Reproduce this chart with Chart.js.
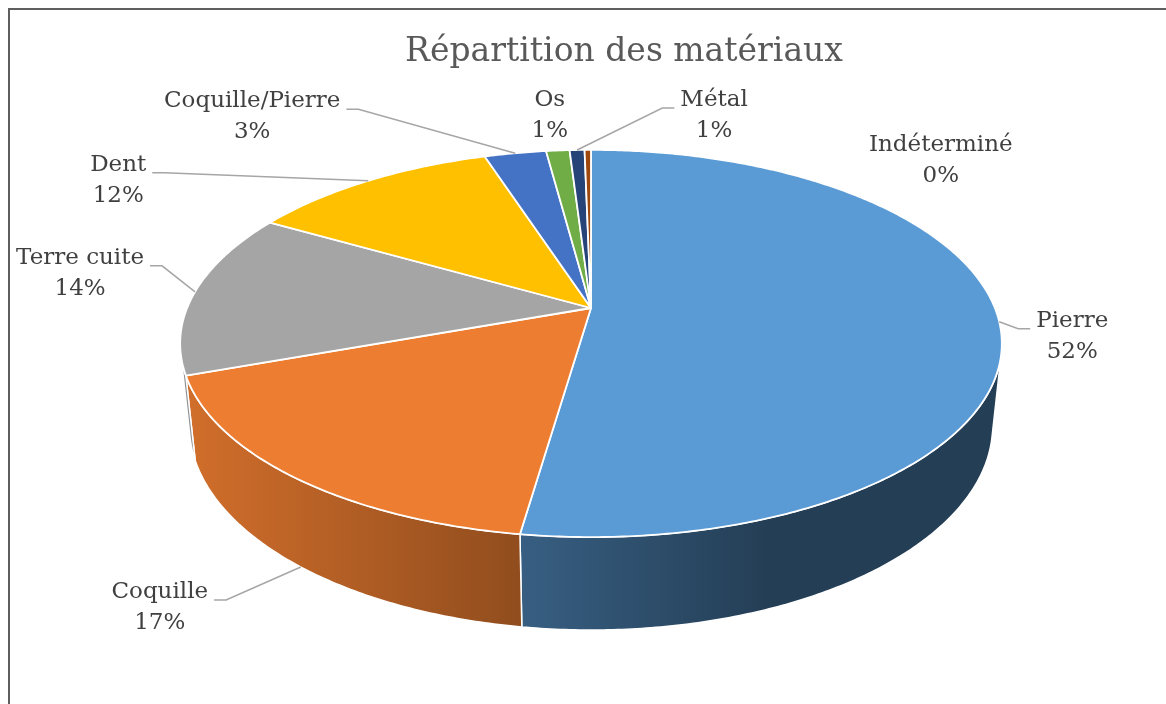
<!DOCTYPE html>
<html lang="fr">
<head>
<meta charset="UTF-8">
<title>Répartition des matériaux</title>
<script src="https://cdn.jsdelivr.net/npm/chart.js"></script>
<style>
    body { margin: 0; background: #fff; }
    .wrap { position: relative; width: 1166px; height: 704px; overflow: hidden; }
    .frame { position: absolute; left: 8px; top: 8px; width: 1400px; height: 900px; border: 2px solid #5e5e5e; }
    canvas { position: absolute; left: 0; top: 0; }
</style>
</head>
<body>
<div class="wrap">
    <div class="frame"></div>
    <canvas id="pie" width="1166" height="704"></canvas>
</div>
<script>
const categories = ['Pierre', 'Coquille', 'Terre cuite', 'Dent', 'Coquille/Pierre', 'Os', 'Métal', 'Indéterminé'];
const shares = [52.3, 17.2, 13.8, 11.7, 2.9, 1.1, 0.7, 0.3];
const colors = ['#5B9BD5', '#ED7D31', '#A5A5A5', '#FFC000', '#4472C4', '#70AD47', '#264478', '#9E480E'];

// label placement relative to the slice anchor, and leader lines
const labelShift = [[73, -1], [-141, 25], [-115, -34], [-250, -16], [-263, -52], [-8, -50], [137, -50], [353, -5]];
const showLeader = [true, true, true, true, true, false, true, false];

// 3D view of the pie (units = pie radius)
const TILT = 27.6 * Math.PI / 180;
const DIST = 4.835;
const FOCAL = 6.34;
const DEPTH = 0.232;

const total = shares.reduce((a, b) => a + b, 0);

function project(cx, cy, r, a, z, k = 1) {
    const X = k * Math.cos(a), Y = -k * Math.sin(a);
    const yc = Y * Math.sin(TILT) + z * Math.cos(TILT);
    const zc = DIST + Y * Math.cos(TILT) - z * Math.sin(TILT);
    const f = FOCAL * r;
    return [cx + f * X / zc, cy - f * yc / zc];
}

function shade(hex, k) {
    const n = parseInt(hex.slice(1), 16);
    return `rgb(${Math.round((n >> 16) * k)},${Math.round(((n >> 8) & 255) * k)},${Math.round((n & 255) * k)})`;
}

function rimPath(ctx, cx, cy, r, a1, a2, z, first) {
    const steps = Math.max(2, Math.ceil(Math.abs(a2 - a1) / 0.01));
    for (let s = 0; s <= steps; s++) {
        const p = project(cx, cy, r, a1 + (a2 - a1) * s / steps, z);
        if (s === 0 && first) ctx.moveTo(p[0], p[1]); else ctx.lineTo(p[0], p[1]);
    }
}

const pie3d = {
    id: 'pie3d',
    beforeDatasetsDraw(chart) {
        const ctx = chart.ctx;
        const arcs = chart.getDatasetMeta(0).data;
        const cx = arcs[0].x, cy = arcs[0].y, r = arcs[0].outerRadius;
        const vis = 1 / (DIST * Math.cos(TILT));
        const aLo = Math.asin(vis), aHi = Math.PI - aLo;
        const xl = project(cx, cy, r, Math.PI, 0)[0], xr = project(cx, cy, r, 0, 0)[0];

        ctx.save();
        ctx.lineJoin = 'round';
        // side walls
        arcs.forEach((arc, i) => {
            const s = Math.max(arc.startAngle, aLo), e = Math.min(arc.endAngle, aHi);
            if (e <= s) return;
            ctx.beginPath();
            rimPath(ctx, cx, cy, r, s, e, 0, true);
            rimPath(ctx, cx, cy, r, e, s, -DEPTH, false);
            ctx.closePath();
            const g = ctx.createLinearGradient(xl, 0, xr, 0);
            g.addColorStop(0, shade(colors[i], 0.88));
            g.addColorStop(0.40, shade(colors[i], 0.62));
            g.addColorStop(0.72, shade(colors[i], 0.40));
            g.addColorStop(1, shade(colors[i], 0.40));
            ctx.fillStyle = g;
            ctx.fill();
            ctx.strokeStyle = '#ffffff';
            ctx.lineWidth = 1.5;
            ctx.stroke();
        });
        // top faces
        arcs.forEach((arc, i) => {
            ctx.beginPath();
            ctx.moveTo(cx, cy);
            rimPath(ctx, cx, cy, r, arc.startAngle, arc.endAngle, 0, false);
            ctx.closePath();
            ctx.fillStyle = colors[i];
            ctx.fill();
            ctx.strokeStyle = '#ffffff';
            ctx.lineWidth = 1.8;
            ctx.stroke();
        });
        ctx.restore();
        return false;
    },
    afterDraw(chart) {
        const ctx = chart.ctx;
        const arcs = chart.getDatasetMeta(0).data;
        const cx = arcs[0].x, cy = arcs[0].y, r = arcs[0].outerRadius;
        const vis = 1 / (DIST * Math.cos(TILT));

        ctx.save();
        ctx.fillStyle = '#595959';
        ctx.font = '33px "DejaVu Serif"';
        ctx.textAlign = 'center';
        ctx.textBaseline = 'alphabetic';
        ctx.fillText('Répartition des matériaux', 624, 61);

        ctx.font = '23px "DejaVu Serif"';
        ctx.textBaseline = 'middle';
        arcs.forEach((arc, i) => {
            const mid = (arc.startAngle + arc.endAngle) / 2;
            const onWall = Math.sin(mid) > vis;
            const [ax, ay] = project(cx, cy, r, mid, onWall ? -DEPTH : 0);
            const lx = ax + labelShift[i][0], ly = ay + labelShift[i][1];
            const pct = Math.round(shares[i] / total * 100) + '%';
            const w = Math.max(ctx.measureText(categories[i]).width, ctx.measureText(pct).width);

            if (showLeader[i]) {
                const right = lx > ax;
                const ex = right ? lx - w / 2 - 6 : lx + w / 2 + 6;
                const ey = ly + 8;
                const sx = right ? ex - 12 : ex + 12;
                ctx.beginPath();
                ctx.moveTo(ax, ay);
                ctx.lineTo(sx, ey);
                ctx.lineTo(ex, ey);
                ctx.strokeStyle = '#a6a6a6';
                ctx.lineWidth = 1.5;
                ctx.stroke();
            }
            ctx.fillStyle = '#404040';
            ctx.fillText(categories[i], lx, ly);
            ctx.fillText(pct, lx, ly + 31);
        });
        ctx.restore();
    }
};

new Chart(document.getElementById('pie'), {
    type: 'pie',
    data: {
        labels: categories,
        datasets: [{ data: shares, backgroundColor: colors, borderWidth: 0 }]
    },
    options: {
        responsive: false,
        animation: false,
        events: [],
        layout: { padding: { top: 0, bottom: 88, left: 283, right: 267 } },
        plugins: {
            legend: { display: false },
            tooltip: { enabled: false }
        }
    },
    plugins: [pie3d]
});
</script>
</body>
</html>
